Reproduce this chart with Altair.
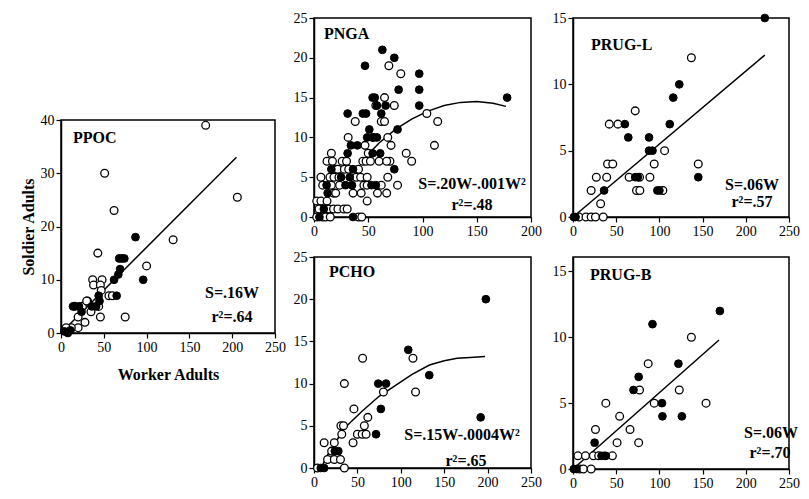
import altair as alt
import pandas as pd

SERIF = "Liberation Serif"

# ---------------- PPOC ----------------
ppoc_open_w = [169, 51, 62, 206, 131, 43, 100, 37, 48, 38, 46, 56, 60, 75, 46, 28, 35, 31, 25, 16, 20, 20, 12, 6, 44, 47, 30]
ppoc_open_s = [39, 30, 23, 25.5, 17.5, 15, 12.6, 10, 10, 9, 9, 7, 7, 3, 3, 2, 4, 6, 5, 5, 3, 1, 1, 1, 5, 8, 6]
ppoc_fill_w = [87, 68, 71, 74, 69, 67, 62, 96, 65, 45, 36, 41, 24, 14, 44, 4, 8, 11, 21]
ppoc_fill_s = [18, 14, 14, 14, 12, 11, 10, 10, 7, 6, 5, 5, 4, 5, 7, 0.3, 0, 0.5, 5]
ppoc_line_w = [0, 205]
ppoc_line_s = [0, 33]

# ---------------- PNGA ----------------
pnga_open_w = [69, 80, 65, 74, 57, 38, 62, 65, 104, 114, 31.5, 68, 54, 71, 111, 85, 90, 16, 12, 17, 26, 30,
               45, 48, 52, 60, 70, 67, 20, 22, 28, 32, 41, 6.4, 14.7, 18.4, 23, 39, 43, 49, 68, 8, 16, 23.6,
               46, 49, 62, 77, 17.8, 20, 36, 43.5, 58.5, 67, 49, 2.5, 6.4, 12, 4.6, 10.7, 13.8, 18, 22, 27.5,
               30.6, 2.5, 7.7, 10.7, 15, 41, 44, 50, 47]
pnga_open_s = [19, 18, 15, 14, 14, 12, 12, 12, 13, 12, 10, 10, 10, 9, 9, 8, 7, 8, 7, 7, 7, 7,
               7, 7, 7, 7, 7, 7, 6, 6, 6, 6, 6, 5, 5, 5, 5, 5, 5, 5, 5, 4, 4, 4,
               4, 4, 4, 4, 3, 3, 3, 3, 3, 3, 2, 2, 2, 2, 1, 1, 1, 1, 1, 1,
               1, 0, 0, 0, 0, 0, 0, 8, 9]
pnga_fill_w = [63, 74, 47, 97, 78, 97, 97, 54, 56, 58, 66, 31, 45, 48, 62, 178, 77, 51, 49, 55, 58, 34, 40,
               31, 54, 61, 74, 36, 11.6, 29, 35, 53, 57, 12.6, 36, 9, 5, 16, 25, 33]
pnga_fill_s = [21, 20, 19, 18, 16, 16, 14, 15, 15, 14, 14, 13, 13, 13, 13, 15, 11, 11, 10, 10, 10, 9, 9,
               8, 8, 8, 6, 6, 4, 4, 4, 4, 4, 3, 0, 1, 0, 6, 5, 5]
pnga_line_w = [48, 60, 75, 90, 105, 120, 135, 150, 165, 177]
pnga_line_s = [7.6, 9.3, 11, 12.3, 13.3, 14, 14.4, 14.5, 14.3, 13.9]

# ---------------- PRUG-L ----------------
prugl_open_w = [137, 72, 42, 52, 40, 46, 94, 106, 145, 27, 39, 65, 77, 89, 21, 73.5, 77.4, 104, 32, 7, 15, 21, 26, 35]
prugl_open_s = [12, 8, 7, 7, 4, 4, 4, 5, 4, 3, 3, 3, 3, 3, 2, 2, 2, 2, 1, 0, 0, 0, 0, 0]
prugl_fill_w = [222, 123, 116, 112, 60, 64, 88, 88, 92, 72, 75, 97.6, 100, 145, 36, 1, 3]
prugl_fill_s = [15, 10, 9, 7, 7, 6, 6, 5, 5, 3, 3, 2, 2, 3, 2, 0, 0]
prugl_line_w = [0, 222]
prugl_line_s = [0, 12.2]

# ---------------- PCHO ----------------
pcho_open_w = [56, 114, 35, 80, 117, 46, 62, 58, 31, 34, 32, 50, 55.5, 60, 45, 11.7, 23.4, 20.3, 15.6, 23.4, 30.5, 35, 4]
pcho_open_s = [13, 13, 10, 9, 9, 7, 6, 5, 5, 5, 4, 4, 4, 4, 3, 3, 3, 2, 1, 1, 1, 0, 0]
pcho_fill_w = [198, 108.6, 132.8, 74, 83, 77, 192, 71.5, 24, 28, 11.7, 7.8]
pcho_fill_s = [20, 14, 11, 10, 10, 7, 6, 4, 2, 2, 0, 0]
pcho_line_w = [8, 16, 35, 55, 75, 94, 113, 133, 150, 165, 180, 197]
pcho_line_s = [0, 1.6, 4.7, 6.7, 8.5, 9.8, 11.1, 12.2, 12.7, 13.0, 13.1, 13.2]

# ---------------- PRUG-B ----------------
prugb_open_w = [137, 87, 77, 123, 38, 94, 154, 54, 66, 26, 76, 51, 5.7, 14.4, 23.6, 29.7, 45.6, 7.6, 12, 21]
prugb_open_s = [10, 8, 6, 6, 5, 5, 5, 4, 3, 3, 2, 2, 1, 1, 1, 1, 1, 0, 0, 0]
prugb_fill_w = [170, 92, 122, 76, 70, 103, 103.5, 126, 25, 38, 1, 4, 33, 36]
prugb_fill_s = [12, 11, 8, 7, 6, 5, 4, 4, 2, 1, 0, 0, 1, 1]
prugb_line_w = [0, 169]
prugb_line_s = [0, 9.8]


def text_layer(label, px, py, size, align="center"):
    return alt.Chart(pd.DataFrame({"t": [label]})).mark_text(
        font=SERIF, fontWeight="bold", fontSize=size, align=align, baseline="middle", color="black"
    ).encode(x=alt.value(px), y=alt.value(py), text="t:N")


def panel(ow, os_, fw, fs, lw, ls, xmax, ymax, ystep, width, height,
          name, name_xy, eq, eq_xy, r2, r2_xy, xtitle=None, ytitle=None, ytop=None):
    top = ytop if ytop is not None else ymax
    xs = alt.Scale(domain=[0, xmax], nice=False, zero=False)
    ys = alt.Scale(domain=[0, top], nice=False, zero=False)
    xax = alt.Axis(values=list(range(0, xmax + 1, 50)), title=xtitle, titlePadding=12, labelFlush=False)
    yax = alt.Axis(values=list(range(0, ymax + 1, ystep)), title=ytitle, titlePadding=4, labelFlush=False)
    x = alt.X("W:Q", scale=xs, axis=xax)
    y = alt.Y("S:Q", scale=ys, axis=yax)
    line = alt.Chart(pd.DataFrame({"W": lw, "S": ls})).mark_line(
        color="black", strokeWidth=1.5).encode(x=x, y=y)
    opn = alt.Chart(pd.DataFrame({"W": ow, "S": os_})).mark_point(
        shape="circle", filled=True, fill="white", stroke="black", strokeWidth=1.3,
        size=60, opacity=1).encode(x=x, y=y)
    fil = alt.Chart(pd.DataFrame({"W": fw, "S": fs})).mark_point(
        shape="circle", filled=True, fill="black", stroke="black", strokeWidth=1,
        size=60, opacity=1).encode(x=x, y=y)
    t1 = text_layer(name, name_xy[0], name_xy[1], 16, align="left")
    t2 = text_layer(eq, eq_xy[0], eq_xy[1], 16)
    t3 = text_layer(r2, r2_xy[0], r2_xy[1], 16)
    return alt.layer(line, opn, fil, t1, t2, t3).properties(width=width, height=height)


ppoc = panel(ppoc_open_w, ppoc_open_s, ppoc_fill_w, ppoc_fill_s, ppoc_line_w, ppoc_line_s,
             250, 40, 10, 214, 213, "PPOC", (12, 18), "S=.16W", (171, 173), "r²=.64", (171, 197),
             xtitle="Worker Adults", ytitle="Soldier Adults")
pnga = panel(pnga_open_w, pnga_open_s, pnga_fill_w, pnga_fill_s, pnga_line_w, pnga_line_s,
             200, 25, 5, 217, 199, "PNGA", (10, 16), "S=.20W-.001W²", (158, 166), "r²=.48", (158, 187))
pcho = panel(pcho_open_w, pcho_open_s, pcho_fill_w, pcho_fill_s, pcho_line_w, pcho_line_s,
             250, 25, 5, 217, 211, "PCHO", (15, 15), "S=.15W-.0004W²", (148, 178), "r²=.65", (152, 204))
prugl = panel(prugl_open_w, prugl_open_s, prugl_fill_w, prugl_fill_s, prugl_line_w, prugl_line_s,
              250, 15, 5, 216, 199, "PRUG-L", (18, 27), "S=.06W", (179, 167), "r²=.57", (179, 184))
prugb = panel(prugb_open_w, prugb_open_s, prugb_fill_w, prugb_fill_s, prugb_line_w, prugb_line_s,
              250, 15, 5, 216, 212, "PRUG-B", (17, 18), "S=.06W", (198, 176), "r²=.70", (197, 196),
              ytop=16.1)

spacer = alt.Chart(pd.DataFrame({"a": [0]})).mark_point(opacity=0).encode(
    x=alt.X("a:Q", axis=None), y=alt.Y("a:Q", axis=None)
).properties(width=214, height=94, view=alt.ViewBackground(strokeOpacity=0))

col1 = alt.vconcat(spacer, ppoc, spacing=0).resolve_scale(x="independent", y="independent")
col2 = alt.vconcat(pnga, pcho, spacing=10).resolve_scale(x="independent", y="independent")
col3 = alt.vconcat(prugl, prugb, spacing=17).resolve_scale(x="independent", y="independent")

left = alt.hconcat(col1, col2, spacing=5).resolve_scale(x="independent", y="independent")

chart = alt.hconcat(left, col3, spacing=8).resolve_scale(
    x="independent", y="independent"
).properties(
    padding={"left": 11, "top": 2, "right": 0, "bottom": 0}, background="white"
).configure_view(
    stroke="black", strokeWidth=1.5
).configure_axis(
    labelFont=SERIF, labelFontSize=14, labelColor="black", labelPadding=2,
    tickColor="black", tickSize=5, tickWidth=1.2, domainColor="black", domainWidth=1.5,
    grid=False, titleFont=SERIF, titleFontSize=16, titleFontWeight="bold", titleColor="black"
)

chart.save("out.html", embed_options={"renderer": "svg", "actions": False})
